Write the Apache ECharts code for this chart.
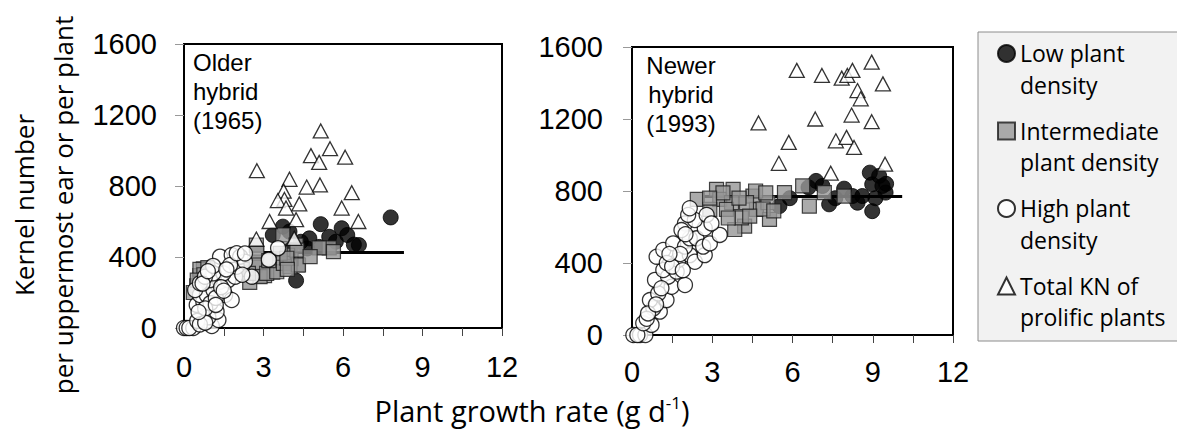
<!DOCTYPE html>
<html>
<head>
<meta charset="utf-8">
<script src="https://cdn.jsdelivr.net/npm/echarts@6/dist/echarts.min.js"></script>
<style>
html,body{margin:0;padding:0;background:#fff;}
#chart{width:1177px;height:429px;}
</style>
</head>
<body>
<div id="chart"></div>
<script>
// ---- data (x = plant growth rate g/d, y = kernel number) ----
const xTicks = [0, 3, 6, 9, 12];
const yTicks = [0, 400, 800, 1200, 1600];
const seriesNames = ['Low plant\ndensity', 'Intermediate\nplant density', 'High plant\ndensity', 'Total KN of\nprolific plants'];

const olderLow = [[7.8,623],[3.73,571],[5.16,585],[5.95,562],[6.41,470],[6.6,467],[4.23,267],[3.35,524],[4.73,505],[5.48,514],[5.1,457],[4.65,448],[3.98,543],[4.41,486],[5.73,486],[6.16,524],[4.0,440]];
const olderInter = [[5.48,451],[5.1,451],[4.29,356],[3.73,524],[3.6,381],[4.04,390],[3.35,314],[3.04,295],[2.73,467],[2.73,371],[2.48,257],[0.73,333],[0.6,295],[0.48,238],[0.35,200],[4.23,467],[3.91,410],[2.23,314],[2.75,421],[2.68,355],[2.87,289],[3.12,308],[2.43,308],[3.5,317],[3.75,364],[4.0,345],[4.32,355],[3.63,421],[4.26,439],[5.64,430],[3.88,393],[4.76,402],[0.6,330],[0.75,300],[0.5,270],[0.9,340],[1.0,250],[3.2,380],[2.2,330],[3.9,330]];
const olderHigh = [[0,0],[0.1,0],[0.35,0],[0.2,0],[1.05,11],[1.3,45],[0.92,60],[1.23,92],[0.48,130],[0.73,148],[0.6,186],[0.86,186],[0.42,214],[1.11,214],[1.55,186],[1.8,158],[1.36,261],[0.98,270],[0.6,252],[1.67,270],[1.93,289],[1.49,308],[1.11,308],[0.79,289],[1.99,345],[1.36,402],[1.8,411],[2.12,402],[1.74,355],[2.56,289],[3.2,385],[3.55,450],[2.3,374],[1.99,421],[1.0,140],[1.2,170],[0.8,110],[1.4,230],[1.5,210],[0.7,250],[1.1,350],[1.6,330],[2.2,300],[2.3,420],[0.9,320],[0.5,40],[0.6,20],[0.8,30],[1.2,130],[0.55,90]];
const olderTotal = [[5.16,1110],[5.51,1010],[4.79,971],[5.1,933],[6.08,962],[2.75,886],[3.98,838],[4.63,794],[5.13,806],[6.33,762],[3.76,771],[3.79,724],[3.54,718],[4.35,699],[3.85,676],[5.95,676],[3.23,600],[4.23,610],[6.58,600],[2.73,501],[4.16,505]];
const olderFit = [[3.0,425],[8.3,425]];

const newerLow = [[6.88,856],[7.12,828],[7.93,813],[8.89,902],[8.98,837],[9.36,828],[9.48,791],[8.98,688],[8.43,735],[7.37,726],[8.24,772],[5.51,716],[9.24,884],[8.61,772],[6.6,820],[7.6,760],[9.1,760],[9.5,840],[5.9,760]];
const newerInter = [[2.44,753],[3.16,809],[3.28,753],[3.78,809],[3.72,735],[4.21,605],[3.84,586],[4.09,651],[4.52,772],[4.65,698],[5.08,735],[5.14,642],[4.62,800],[5.7,791],[6.38,828],[6.63,716],[7.19,791],[7.93,772],[3.53,698],[4.28,735],[2.91,698],[4.0,760],[5.0,790],[3.4,790],[4.9,700],[3.6,650],[4.4,660],[5.3,690],[2.9,760]];
const newerHigh = [[0.05,0],[0.3,0],[0.5,0],[0.2,0],[0.73,56],[0.42,65],[1.04,130],[0.8,148],[0.67,194],[1.29,194],[0.98,231],[1.48,268],[1.98,278],[0.86,306],[1.35,324],[1.17,361],[1.67,352],[0.92,435],[1.17,472],[1.54,509],[1.73,417],[2.16,444],[2.35,407],[2.72,444],[1.98,491],[2.16,537],[2.41,537],[2.66,491],[2.91,509],[3.28,556],[2.72,593],[1.98,620],[2.35,639],[2.79,667],[2.1,667],[2.16,704],[1.85,583],[2.97,620],[0.55,90],[0.6,120],[0.9,170],[1.1,260],[1.3,400],[1.5,380],[1.8,450],[1.4,450],[2.0,560],[1.9,360]];
const newerTotal = [[8.96,1516],[6.16,1470],[7.1,1442],[7.84,1427],[8.05,1442],[8.24,1470],[9.38,1395],[8.43,1358],[8.55,1312],[8.21,1222],[6.85,1200],[8.96,1185],[4.73,1178],[5.86,1070],[7.62,1079],[8.02,1098],[8.3,1042],[5.49,954],[9.46,949],[7.43,899]];
const newerFit = [[2.7,770],[10.1,770]];

const panelLabels = ['Older\nhybrid\n(1965)', 'Newer\nhybrid\n(1993)'];
const yTitle = ['Kernel number', 'per uppermost ear or per plant'];

// ---- chart ----
const chart = echarts.init(document.getElementById('chart'), null, {renderer: 'svg'});
const TICKFONT = 'Liberation Sans, Arial, sans-serif';
const TEXTFONT = 'Open Sans, sans-serif';

function xAx(gi, margin) {
  return {
    gridIndex: gi, type: 'value', min: xTicks[0], max: xTicks[xTicks.length-1], interval: 3,
    axisLine: {show: true, onZero: false, lineStyle: {color: '#000', width: 2}},
    axisTick: {show: true, length: 8, lineStyle: {color: '#444', width: 1}},
    minorTick: {show: true, splitNumber: 2, length: 8, lineStyle: {color: '#444', width: 1}},
    splitLine: {show: false},
    axisLabel: {fontSize: 29, fontFamily: TICKFONT, color: '#000', margin: margin, formatter: v => String(v)}
  };
}
function yAx(gi, margin) {
  return {
    gridIndex: gi, type: 'value', min: yTicks[0], max: yTicks[yTicks.length-1], interval: 400,
    axisLine: {show: true, onZero: false, lineStyle: {color: '#000', width: 2}},
    axisTick: {show: true, length: 9, lineStyle: {color: '#999', width: 1}},
    splitLine: {show: false},
    axisLabel: {fontSize: 29, fontFamily: TICKFONT, color: '#000', margin: margin, formatter: v => String(v)}
  };
}

const low = {symbol: 'circle', symbolSize: 15, itemStyle: {color: '#000', borderColor: '#000', borderWidth: 1}, z: 2};
const inter = {symbol: 'rect', symbolSize: 14, itemStyle: {color: '#969696', borderColor: '#1a1a1a', borderWidth: 1.2}, z: 4};
const high = {symbol: 'circle', symbolSize: 15, itemStyle: {color: '#fff', borderColor: '#000', borderWidth: 1.3}, z: 5};
const tot = {symbol: 'triangle', symbolSize: [15, 14], itemStyle: {color: '#fff', borderColor: '#000', borderWidth: 1.3}, z: 6};

function scat(name, data, gi, st) {
  return Object.assign({type: 'scatter', name: name, data: data, xAxisIndex: gi, yAxisIndex: gi, silent: true, emphasis: {disabled: true}}, st);
}
function fit(name, data, gi) {
  return {type: 'line', name: name, data: data, xAxisIndex: gi, yAxisIndex: gi, showSymbol: false, symbol: 'none', silent: true,
    lineStyle: {color: '#000', width: 3}, z: 3};
}

const option = {
  animation: false,
  backgroundColor: '#fff',
  grid: [
    {left: 184, top: 44, width: 318, height: 284, show: true, borderColor: '#000', borderWidth: 2, backgroundColor: 'transparent'},
    {left: 632, top: 47, width: 321, height: 288, show: true, borderColor: '#000', borderWidth: 2, backgroundColor: 'transparent'}
  ],
  xAxis: [xAx(0, 24), xAx(1, 22)],
  yAxis: [yAx(0, 27), yAx(1, 29)],
  legend: {
    data: seriesNames, orient: 'vertical', left: 997, top: 41.5, padding: 0,
    itemWidth: 17, itemHeight: 17, itemGap: 23, selectedMode: false, z: 5,
    formatter: function (name) {
      const parts = name.split('\n');
      return '{f|' + parts[0] + '}\n{s|' + parts[1] + '}';
    },
    textStyle: {
      fontFamily: TEXTFONT, fontSize: 23, color: '#000',
      rich: {
        f: {fontFamily: TEXTFONT, fontSize: 23, color: '#000', lineHeight: 62},
        s: {fontFamily: TEXTFONT, fontSize: 23, color: '#000', lineHeight: 1}
      }
    }
  },
  graphic: [
    {type: 'rect', z: -10, shape: {x: 978, y: 32, width: 210, height: 309}, style: {fill: '#f2f2f2', stroke: '#8c8c8c', lineWidth: 1}},
    {type: 'text', z: 10, x: 193, y: 48, style: {text: panelLabels[0], font: '24px ' + TICKFONT, fill: '#000', lineHeight: 29, align: 'left', verticalAlign: 'top'}},
    {type: 'text', z: 10, x: 681, y: 51, style: {text: panelLabels[1], font: '24px ' + TICKFONT, fill: '#000', lineHeight: 29, align: 'center', verticalAlign: 'top'}},
    {type: 'text', z: 10, x: 24, y: 205, rotation: Math.PI/2, style: {text: yTitle[0], font: '26px ' + TEXTFONT, fill: '#000', align: 'center', verticalAlign: 'middle'}},
    {type: 'text', z: 10, x: 63, y: 205, rotation: Math.PI/2, style: {text: yTitle[1], font: '26px ' + TEXTFONT, fill: '#000', align: 'center', verticalAlign: 'middle'}},
    {type: 'text', z: 10, x: 532, y: 410, style: {
      text: '{a|Plant growth rate (g d}{s|-1}{a|)}', align: 'center', verticalAlign: 'middle',
      rich: {a: {fontFamily: TEXTFONT, fontSize: 29, fill: '#000'}, s: {fontFamily: TEXTFONT, fontSize: 17, fill: '#000', padding: [0, 0, 16, 0]}}
    }}
  ],
  series: [
    scat(seriesNames[0], olderLow, 0, low),
    fit('fitOlder', olderFit, 0),
    scat(seriesNames[1], olderInter, 0, inter),
    scat(seriesNames[2], olderHigh, 0, high),
    scat(seriesNames[3], olderTotal, 0, tot),
    scat(seriesNames[0], newerLow, 1, low),
    fit('fitNewer', newerFit, 1),
    scat(seriesNames[1], newerInter, 1, inter),
    scat(seriesNames[2], newerHigh, 1, high),
    scat(seriesNames[3], newerTotal, 1, tot)
  ]
};
chart.setOption(option);
</script>
</body>
</html>
